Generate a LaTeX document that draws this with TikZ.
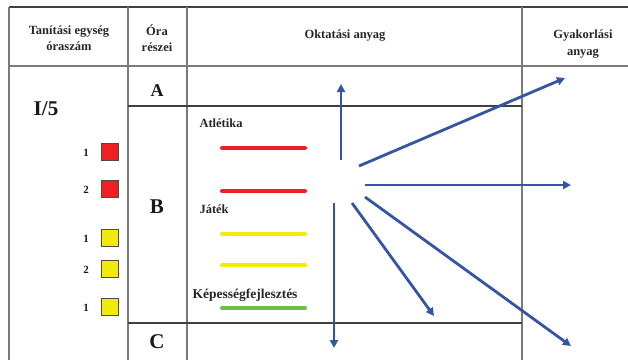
\documentclass[tikz,border=0pt]{standalone}
\usepackage{fontspec}
\setmainfont{Liberation Serif}
\usetikzlibrary{arrows.meta}
\definecolor{gridgray}{HTML}{7A7A7A}
\definecolor{arrowblue}{HTML}{3454A4}
\definecolor{myred}{HTML}{EE2024}
\definecolor{myyellow}{HTML}{F2EA0A}
\definecolor{mygreen}{HTML}{6DBE45}
\tikzset{
  grid/.style={draw=gridgray,line width=1.4pt},
  hdr/.style={font=\bfseries\fontsize{12.5}{14}\selectfont,align=center,text=black!85},
  big/.style={font=\bfseries\fontsize{21}{24}\selectfont,text=black!90},
  lbl/.style={font=\bfseries\fontsize{12.5}{14}\selectfont,anchor=west,text=black!85},
  num/.style={font=\bfseries\fontsize{11}{12}\selectfont,text=black!90},
  sq/.style={draw=black!70,line width=0.9pt,minimum size=17pt,inner sep=0pt},
  bar/.style={line width=4pt,line cap=round},
  arr/.style={draw=arrowblue,line width=2.8pt,-{Triangle[length=8pt,width=8pt]}}
}
\begin{document}
\begin{tikzpicture}[x=1pt,y=-1pt]
\useasboundingbox (0,0) rectangle (628,360);
% table lines
\draw[grid,draw=black!75] (9,7) -- (628,7);
\draw[grid] (9,66) -- (628,66);
\draw[grid] (9,7) -- (9,360);
\draw[grid] (128,7) -- (128,360);
\draw[grid] (187,7) -- (187,360);
\draw[grid] (522,7) -- (522,360);
\draw[grid,draw=black!75] (128,106) -- (522,106);
\draw[grid,draw=black!75] (128,323) -- (522,323);
% headers
\node[hdr] (h1) at (69,38) {Tanítási egység\\[2.5pt]óraszám};
\node[hdr] (h2) at (157,38) {Óra\\[2.5pt]részei};
\node[hdr] (h3) at (345,36) {Oktatási anyag};
\node[hdr] (h4) at (583,44) {Gyakorlási\\[2.5pt]anyag};
% row labels
\node[big] (i5) at (46,109) {I/5};
\node[big,font=\bfseries\fontsize{18}{20}\selectfont] (ra) at (157,91) {A};
\node[big] (rb) at (157,207) {B};
\node[big] (rc) at (157,342) {C};
% squares
\node[sq,fill=myred] (s1) at (110,152) {};
\node[sq,fill=myred] (s2) at (110,189) {};
\node[sq,fill=myyellow] (s3) at (110,238) {};
\node[sq,fill=myyellow] (s4) at (110,269) {};
\node[sq,fill=myyellow] (s5) at (110,307) {};
\node[num] (n1) at (86,153) {1};
\node[num] (n2) at (86,190) {2};
\node[num] (n3) at (86,239) {1};
\node[num] (n4) at (86,270) {2};
\node[num] (n5) at (86,308) {1};
% section labels
\node[lbl] (atl) at (196,123) {Atlétika};
\node[lbl] (jat) at (196,209) {Játék};
\node[lbl,font=\bfseries\fontsize{13.5}{15}\selectfont] (kep) at (189,295) {Képességfejlesztés};
% bars
\draw[bar,myred] (222,148) -- (305,148);
\draw[bar,myred] (222,191) -- (305,191);
\draw[bar,myyellow] (222,234) -- (305,234);
\draw[bar,myyellow] (222,265) -- (305,265);
\draw[bar,mygreen] (222,308) -- (305,308);
% arrows
\coordinate (a1s) at (341,160); \coordinate (a1e) at (341,84);
\coordinate (a2s) at (359,166); \coordinate (a2e) at (565,78);
\coordinate (a3s) at (365,185); \coordinate (a3e) at (571,185);
\coordinate (a4s) at (365,197); \coordinate (a4e) at (571,346);
\coordinate (a5s) at (352,203); \coordinate (a5e) at (434,316);
\coordinate (a6s) at (334,203); \coordinate (a6e) at (334,348);
\draw[arr] (a1s) -- (a1e);
\draw[arr] (a2s) -- (a2e);
\draw[arr] (a3s) -- (a3e);
\draw[arr] (a4s) -- (a4e);
\draw[arr] (a5s) -- (a5e);
\draw[arr] (a6s) -- (a6e);
\end{tikzpicture}
\end{document}
